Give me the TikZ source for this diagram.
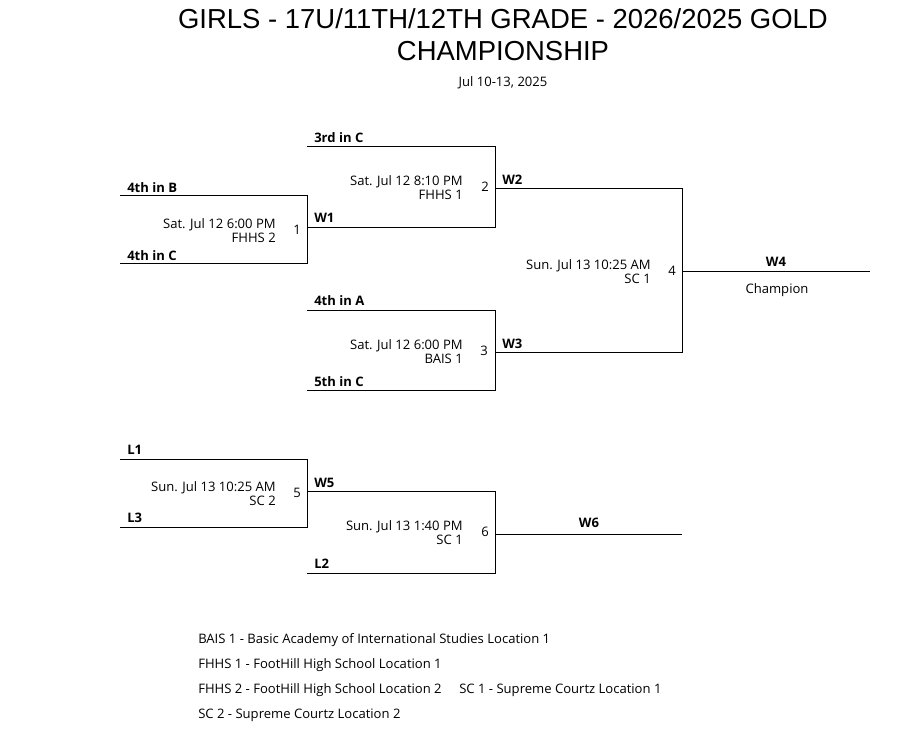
\documentclass[tikz,border=0pt]{standalone}
\usepackage{fontspec}
\setmainfont{Open Sans}
\newfontfamily\titlefont{Liberation Sans}
\tikzset{
  >=latex
}

\begin{document}
\begin{tikzpicture}[x=0.75pt,y=-0.75pt,
    every node/.style={inner sep=0pt},
    txt/.style={font=\fontsize{9.8}{10.5}\selectfont,yshift=-0.6pt},
    slot/.style={txt,font=\fontsize{9.8}{10.5}\selectfont\bfseries,anchor=mid west},
    info/.style={txt,anchor=east,align=right},
    gameno/.style={txt,anchor=mid},
    legend/.style={txt,anchor=mid west},
    bracket/.style={line width=0.75pt}]
  \useasboundingbox (0,0) rectangle (917,745);

  % title
  \node[font=\titlefont\fontsize{20.6}{24}\selectfont] (title) at (503,19) {GIRLS - 17U/11TH/12TH GRADE - 2026/2025 GOLD};
  \node[font=\titlefont\fontsize{20.6}{24}\selectfont] (title2) at (503,51) {CHAMPIONSHIP};
  \node[txt] (dates) at (503,82) {Jul 10-13, 2025};

  % corners of the bracket
  \coordinate (a1) at (120,196); \coordinate (b1) at (307,196);
  \coordinate (a2) at (120,264); \coordinate (b2) at (307,264);
  \coordinate (w1) at (307,228); \coordinate (w1e) at (495,228);
  \coordinate (c1) at (307,147); \coordinate (c1e) at (495,147);
  \coordinate (c3) at (307,310); \coordinate (c3e) at (495,310);
  \coordinate (c4) at (307,390); \coordinate (c4e) at (495,390);
  \coordinate (w2) at (495,189); \coordinate (w2e) at (682,189);
  \coordinate (w3) at (495,352); \coordinate (w3e) at (682,352);
  \coordinate (w4) at (682,272); \coordinate (w4e) at (870,272);
  \coordinate (l1) at (120,459); \coordinate (l1e) at (307,459);
  \coordinate (l3) at (120,527); \coordinate (l3e) at (307,527);
  \coordinate (w5) at (307,491); \coordinate (w5e) at (495,491);
  \coordinate (l2) at (307,573); \coordinate (l2e) at (495,573);
  \coordinate (w6) at (495,534); \coordinate (w6e) at (682,534);

  \begin{scope}[bracket]
    \draw (a1) -- (b1) -- (b2) -- (a2);
    \draw (c1) -- (c1e) -- (w1e) -- (w1);
    \draw (c3) -- (c3e) -- (c4e) -- (c4);
    \draw (w2) -- (w2e) -- (w3e) -- (w3);
    \draw (w4) -- (w4e);
    \draw (l1) -- (l1e) -- (l3e) -- (l3);
    \draw (w5) -- (w5e) -- (l2e) -- (l2);
    \draw (w6) -- (w6e);
  \end{scope}

  % slot labels
  \node[slot] (s4b) at (127,188) {4th in B};
  \node[slot] (s4c) at (127,256) {4th in C};
  \node[slot] (s3c) at (314,138) {3rd in C};
  \node[slot] (sw1) at (314,218) {W1};
  \node[slot] (s4a) at (314,301) {4th in A};
  \node[slot] (s5c) at (314,382) {5th in C};
  \node[slot] (sw2) at (502,180) {W2};
  \node[slot] (sw3) at (502,344) {W3};
  \node[slot,anchor=mid] (sw4) at (776,262) {W4};
  \node[txt] (champ) at (777,289) {Champion};
  \node[slot] (sl1) at (127,450) {L1};
  \node[slot] (sl3) at (127,518) {L3};
  \node[slot] (sw5) at (314,483) {W5};
  \node[slot] (sl2) at (314,564) {L2};
  \node[slot,anchor=mid] (sw6) at (589,523) {W6};

  % games
  \node[info] (i1) at (276,230) {Sat. Jul 12 6:00 PM\\FHHS 2};
  \node[gameno] (g1) at (297,230) {1};
  \node[info] (i2) at (463,187) {Sat. Jul 12 8:10 PM\\FHHS 1};
  \node[gameno] (g2) at (485,187) {2};
  \node[info] (i3) at (463,351) {Sat. Jul 12 6:00 PM\\BAIS 1};
  \node[gameno] (g3) at (484,351) {3};
  \node[info] (i4) at (651,271) {Sun. Jul 13 10:25 AM\\SC 1};
  \node[gameno] (g4) at (672,271) {4};
  \node[info] (i5) at (276,493) {Sun. Jul 13 10:25 AM\\SC 2};
  \node[gameno] (g5) at (297,493) {5};
  \node[info] (i6) at (463,532) {Sun. Jul 13 1:40 PM\\SC 1};
  \node[gameno] (g6) at (485,532) {6};

  % locations
  \node[legend] (loc1) at (198,639) {BAIS 1 - Basic Academy of International Studies Location 1};
  \node[legend] (loc2) at (198,664) {FHHS 1 - FootHill High School Location 1};
  \node[legend] (loc3) at (198,689) {FHHS 2 - FootHill High School Location 2};
  \node[legend] (loc4) at (459,689) {SC 1 - Supreme Courtz Location 1};
  \node[legend] (loc5) at (198,714) {SC 2 - Supreme Courtz Location 2};
\end{tikzpicture}
\end{document}
